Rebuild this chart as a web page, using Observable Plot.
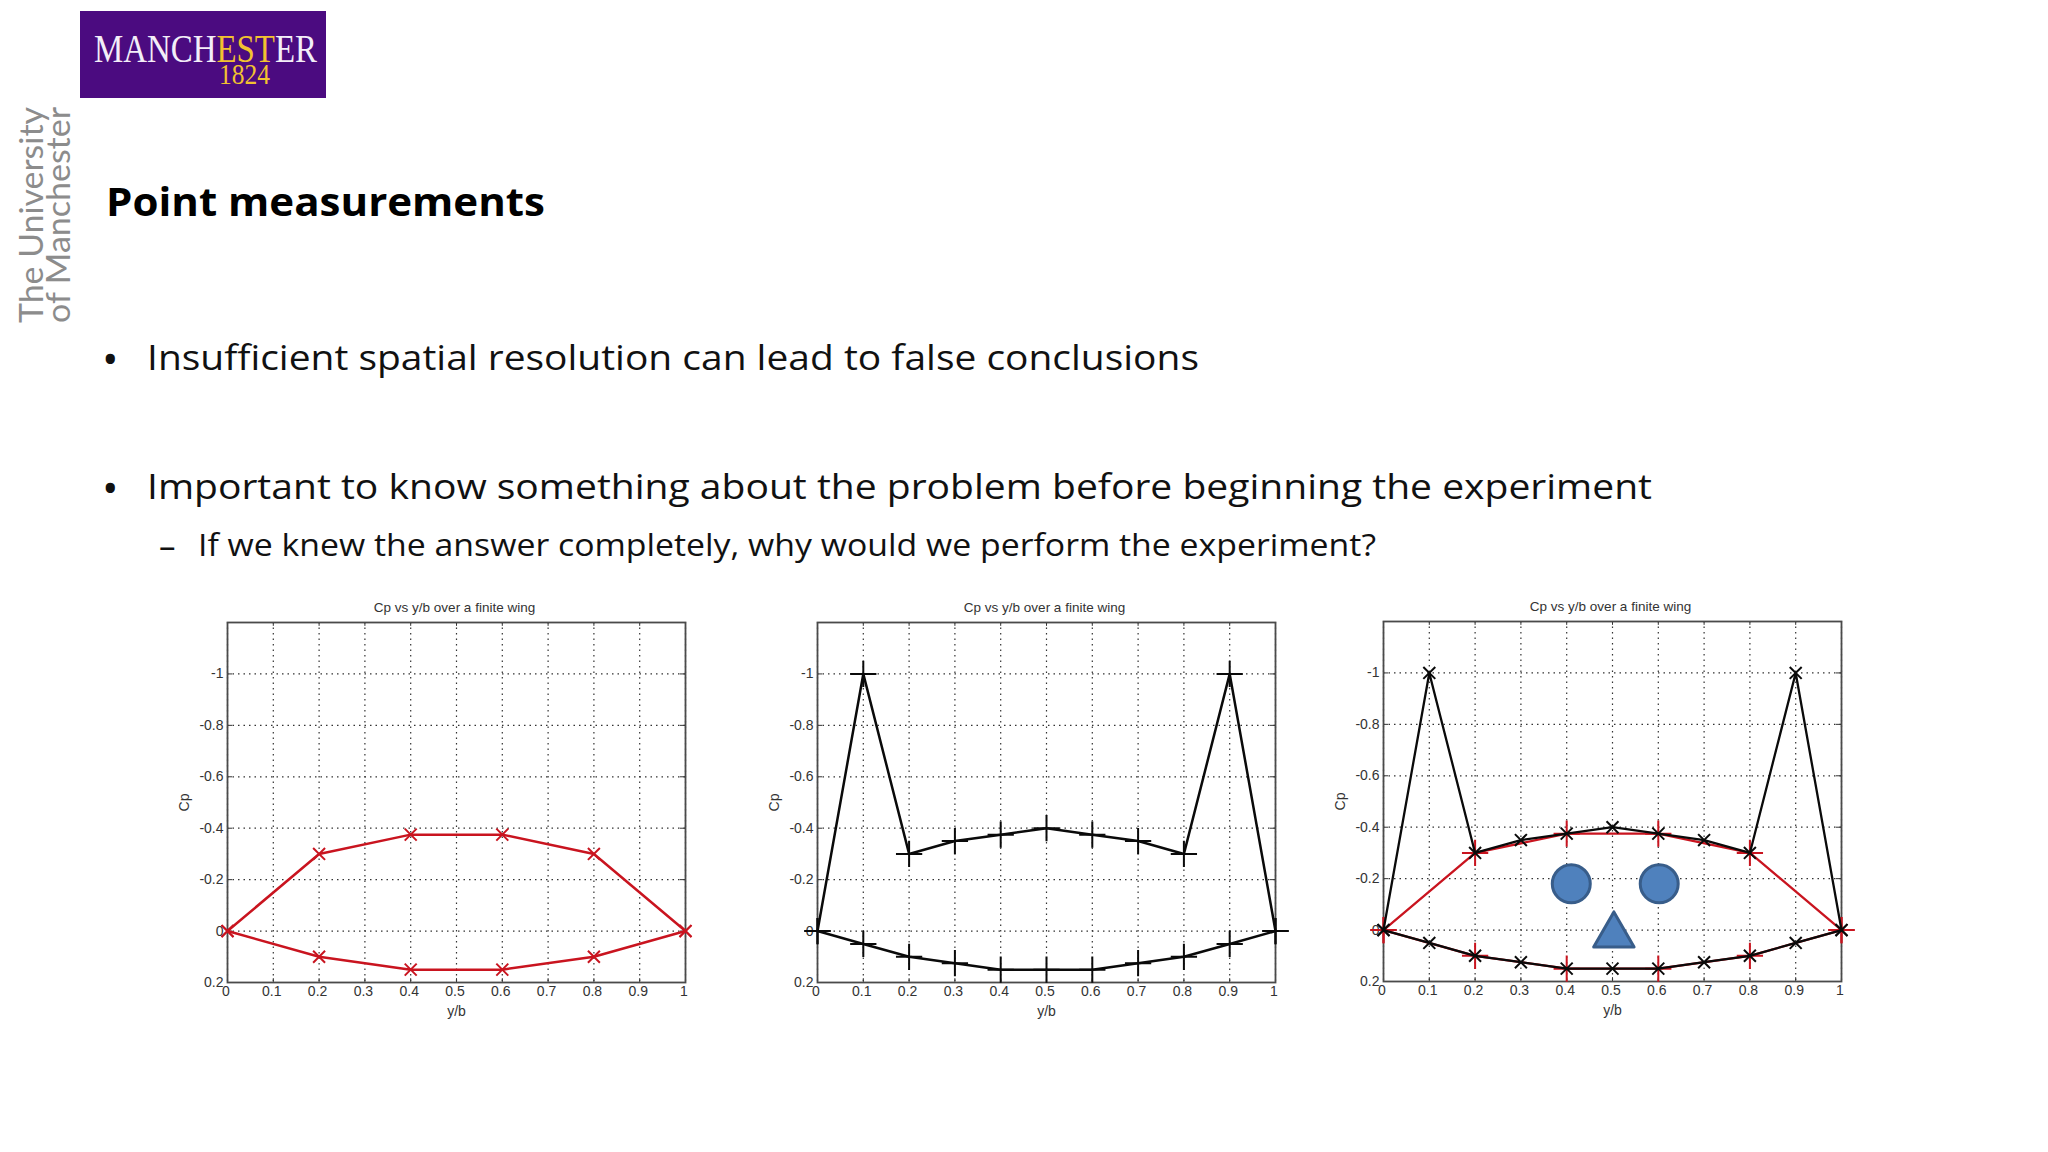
<!DOCTYPE html>
<html>
<head>
<meta charset="utf-8">
<script src="https://cdn.jsdelivr.net/npm/d3@7"></script>
<script src="https://cdn.jsdelivr.net/npm/@observablehq/plot@0.6"></script>
<style>
html,body{margin:0;padding:0;background:#fff;width:2048px;height:1152px;overflow:hidden}
.t{position:absolute;white-space:nowrap;transform-origin:0 0;font-family:"Open Sans",sans-serif;color:#111;line-height:1}
.chart{position:absolute}
.chart svg{overflow:visible;background:transparent}
</style>
</head>
<body>
<div id="logo" style="position:absolute;left:80px;top:11px;width:246px;height:87px;background:#4b0b80"></div>
<script>
// Data
const coarseX = [0, 0.2, 0.4, 0.6, 0.8, 1];
const coarseUpper = [0, -0.3, -0.375, -0.375, -0.3, 0];
const coarseLower = [0, 0.1, 0.15, 0.15, 0.1, 0];
const fineX = [0, 0.1, 0.2, 0.3, 0.4, 0.5, 0.6, 0.7, 0.8, 0.9, 1];
const fineUpper = [0, -1, -0.3, -0.35, -0.375, -0.4, -0.375, -0.35, -0.3, -1, 0];
const fineLower = [0, 0.05, 0.1, 0.125, 0.15, 0.15, 0.15, 0.125, 0.1, 0.05, 0];
const xTicks = [0, 0.1, 0.2, 0.3, 0.4, 0.5, 0.6, 0.7, 0.8, 0.9, 1];
const yTicks = [-1, -0.8, -0.6, -0.4, -0.2, 0, 0.2];
const chartTitle = "Cp vs y/b over a finite wing";
const eyeX = [0.41, 0.602];
const eyeY = [-0.18, -0.18];
const noseX = [0.503];
const noseY = [0.02];

const RED = "#c9141f", BLACK = "#0a0a0a";
const M = {left: 60, right: 30, top: 36, bottom: 50};

function series(x, upper, lower, color, symbol, r, width) {
  return [
    Plot.line(x, {x, y: upper, stroke: color, strokeWidth: width}),
    Plot.line(x, {x, y: lower, stroke: color, strokeWidth: width}),
    Plot.dot(x, {x, y: upper, symbol, r, stroke: color, strokeWidth: 2}),
    Plot.dot(x, {x, y: lower, symbol, r, stroke: color, strokeWidth: 2})
  ];
}

function chart(left, top, w, h, marks) {
  const yInner = yTicks.filter(v => v !== 0.2);
  const p = Plot.plot({
    width: w + M.left + M.right,
    height: h + M.top + M.bottom,
    marginLeft: M.left, marginRight: M.right, marginTop: M.top, marginBottom: M.bottom,
    style: {fontFamily: "Liberation Sans, Arial, sans-serif", fontSize: "14px", color: "#333", background: "transparent"},
    x: {domain: [0, 1]},
    y: {domain: [0.2, -1.2]},
    marks: [
      Plot.gridX(xTicks, {stroke: "#333", strokeOpacity: 1, strokeWidth: 1.2, strokeDasharray: "1.5,4"}),
      Plot.gridY(yInner, {stroke: "#333", strokeOpacity: 1, strokeWidth: 1.2, strokeDasharray: "1.5,4"}),
      Plot.axisX({ticks: xTicks, tickSize: 0, tickPadding: 4, dx: -1.5, tickFormat: d => String(d), label: "y/b", labelAnchor: "center", labelArrow: "none", labelOffset: 33}),
      Plot.axisY({ticks: yTicks, tickSize: 0, tickPadding: 4, tickFormat: d => String(d), label: "Cp", labelAnchor: "center", labelArrow: "none", labelOffset: 48}),
      Plot.ruleX(xTicks, {y1: 0.2, y2: 0.185, stroke: "#333"}),
      Plot.ruleX(xTicks, {y1: -1.2, y2: -1.185, stroke: "#333"}),
      Plot.ruleY(yInner, {x1: 0, x2: 0.011, stroke: "#333"}),
      Plot.ruleY(yInner, {x1: 1, x2: 0.989, stroke: "#333"}),
      Plot.frame({stroke: "#4a4a4a", strokeWidth: 1.8}),
      Plot.text([chartTitle], {frameAnchor: "top", lineAnchor: "bottom", dy: -11, dx: -2, fontSize: 13.5, fill: "#333"}),
      ...marks
    ]
  });
  const d = document.createElement("div");
  d.className = "chart";
  d.style.left = (left - M.left) + "px";
  d.style.top = (top - M.top) + "px";
  d.appendChild(p);
  document.body.appendChild(d);
}

chart(227, 622, 458, 360, series(coarseX, coarseUpper, coarseLower, RED, "times", 5.5, 2.5));
chart(817, 622, 458, 360, series(fineX, fineUpper, fineLower, BLACK, "plus", 8.5, 2.5));
chart(1382.5, 621, 458, 360, [
  ...series(coarseX, coarseUpper, coarseLower, RED, "plus", 8.5, 2.3),
  ...series(fineX, fineUpper, fineLower, BLACK, "times", 5.5, 2.3),
  Plot.dot(eyeX, {x: eyeX, y: eyeY, r: 19, fill: "#4f81bd", stroke: "#385d8a", strokeWidth: 3}),
  Plot.dot(noseX, {x: noseX, y: noseY, symbol: "triangle", r: 15, fill: "#4f81bd", stroke: "#385d8a", strokeWidth: 3, strokeLinejoin: "round"})
]);

function put(str, left, top, size, target, weight, color, family) {
  const s = document.createElement("span");
  s.className = "t";
  s.textContent = str;
  s.style.left = left + "px";
  s.style.top = top + "px";
  s.style.fontSize = size + "px";
  if (weight) s.style.fontWeight = weight;
  if (color) s.style.color = color;
  if (family) s.style.fontFamily = family;
  document.body.appendChild(s);
  if (target) s.style.transform = `scaleX(${target / s.getBoundingClientRect().width})`;
  return s;
}
put("Point measurements", 106, 181, 40, 439, 700, "#000");
put("•", 102, 336, 44, 0);
put("Insufficient spatial resolution can lead to false conclusions", 147, 339, 35, 1052);
put("•", 102, 465, 44, 0);
put("Important to know something about the problem before beginning the experiment", 147, 468, 35, 1505);
put("–", 159, 529, 33, 0);
put("If we knew the answer completely, why would we perform the experiment?", 198, 529, 31, 1178);

// Logo wordmark
const serif = '"Liberation Serif", serif';
const logo = put("", 94, 35, 39, 0, 400, "#f3eef8", serif);
logo.innerHTML = 'MANCH<span style="color:#f2c230">EST</span>ER';
logo.style.lineHeight = "0.7";
logo.style.transform = `scaleX(${223 / logo.getBoundingClientRect().width})`;
const year = put("1824", 219, 64, 29, 51, 400, "#f2c230", serif);
year.style.lineHeight = "0.7";

// Vertical wordmark
function vert(str, x, bottom, size, len) {
  const s = document.createElement("span");
  s.className = "t";
  s.textContent = str;
  s.style.fontFamily = '"Lato", sans-serif';
  s.style.fontWeight = "400";
  s.style.fontSize = size + "px";
  s.style.color = "#8c8c8c";
  s.style.left = x + "px";
  s.style.top = bottom + "px";
  document.body.appendChild(s);
  const w = s.getBoundingClientRect().width;
  s.style.transform = `rotate(-90deg) scaleX(${len / w})`;
}
vert("The University", 14, 323, 33, 216);
vert("of Manchester", 41, 323, 33, 216);
</script>
</body>
</html>
